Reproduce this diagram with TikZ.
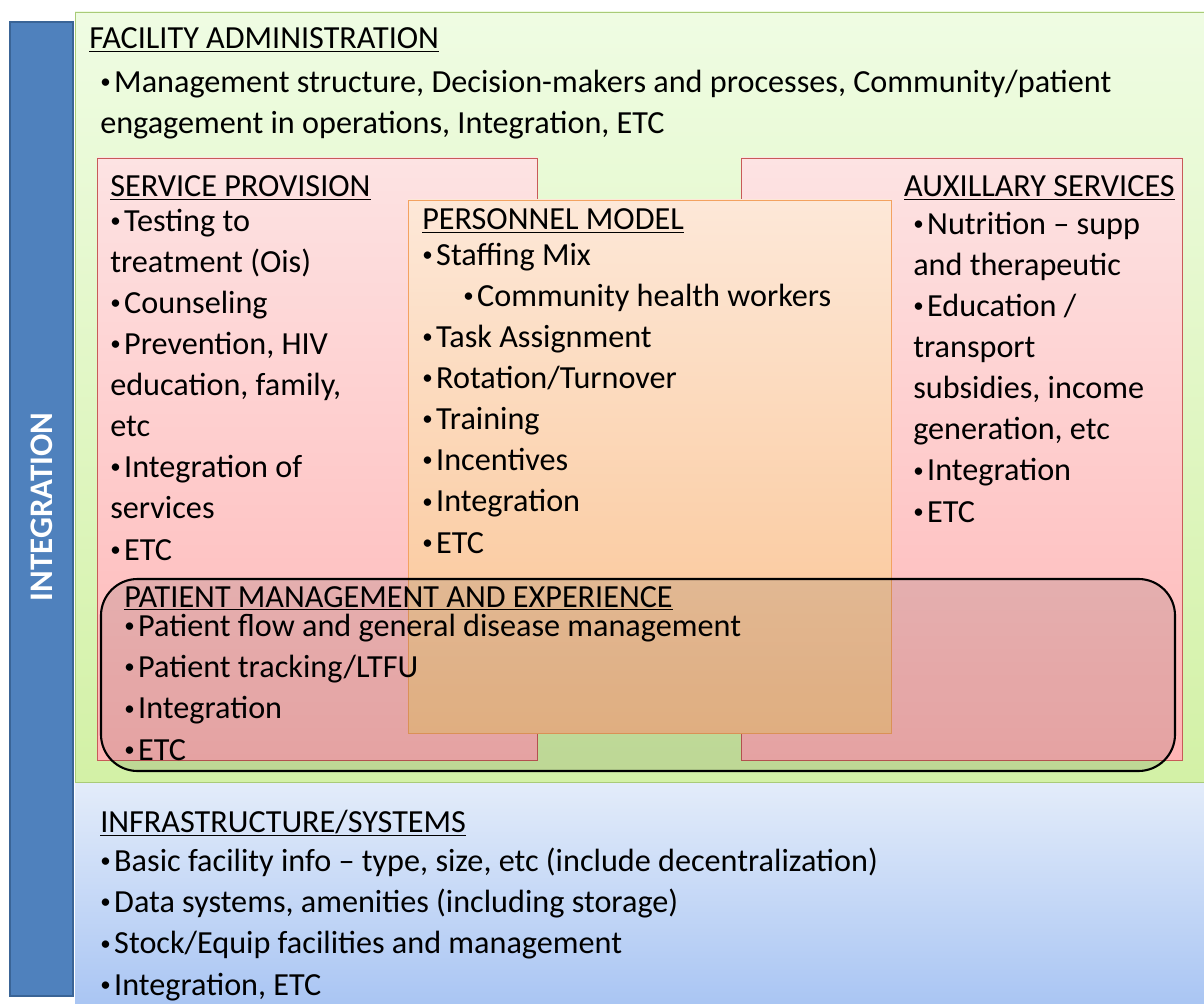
\documentclass[tikz,border=0pt]{standalone}
\usepackage{graphicx}
\usepackage{fontspec}
\setmainfont{Carlito}
\usetikzlibrary{positioning}

\definecolor{barblue}{HTML}{4F81BD}
\definecolor{barline}{HTML}{3A6496}
\definecolor{admtop}{HTML}{EFFCE3}
\definecolor{admbot}{HTML}{D3F1A6}
\definecolor{admline}{HTML}{A9CB78}
\definecolor{inftop}{HTML}{E3ECFA}
\definecolor{infbot}{HTML}{A9C5F3}
\definecolor{sertop}{HTML}{FDE3E3}
\definecolor{serbot}{HTML}{FFB5B5}
\definecolor{serline}{HTML}{C85A58}
\definecolor{pertop}{HTML}{FDE8D8}
\definecolor{perbot}{HTML}{FAC28F}
\definecolor{perline}{HTML}{F3A260}

% small bullet like the slide's
\newcommand\itembul{\raisebox{2.8pt}{\scalebox{0.65}{\textbullet}}\kern2.5pt}

% multi-line nodes sit on the baseline of their last line
\tikzset{
  txt/.style={anchor=base west, inner sep=0pt, align=left,
    font=\fontsize{22.9}{29.2}\selectfont},
}

\begin{document}
\begin{tikzpicture}[x=0.025cm, y=-0.025cm]
\useasboundingbox (0,0) rectangle (1204,1004);
\fill[white] (0,0) rectangle (1204,1004);
% Integration bar
\draw[barline, fill=barblue, line width=1pt] (10,22) rectangle (73,996);
\node[rotate=90, text=white, font=\fontsize{23.4}{26}\bfseries\selectfont] (integ) at (42,507) {INTEGRATION};

% Facility administration
\draw[admline, top color=admtop, bottom color=admbot] (75,12) rectangle (1206,782);
% Infrastructure
\fill[top color=inftop, bottom color=infbot] (75,783) rectangle (1206,1006);

% Service provision and auxillary services
\draw[serline, top color=sertop, bottom color=serbot] (97,158) rectangle (537,760);
\draw[serline, top color=sertop, bottom color=serbot] (741,158) rectangle (1182,760);
% Personnel model
\draw[perline, top color=pertop, bottom color=perbot] (408,200) rectangle (891,733);

% Patient management overlay
\draw[black, line width=1.5pt, fill=black, fill opacity=0.1, rounded corners=26]
  (101,579) rectangle (1175,771);

% Texts
\node[txt] (adm) at (89,49) {\underline{FACILITY ADMINISTRATION}};
\node[txt] (admlist) at (100,134) {\itembul Management structure, Decision-makers and processes, Community/patient\\
engagement in operations, Integration, ETC};

\node[txt] (ser) at (110,197) {\underline{SERVICE PROVISION}};
\node[txt] (serlist) at (110,560) {\itembul Testing to\\ treatment (Ois)\\ \itembul Counseling\\
\itembul Prevention, HIV\\ education, family,\\ etc\\ \itembul Integration of\\ services\\ \itembul ETC};

\node[txt, anchor=base east] (aux) at (1175,197) {\underline{AUXILLARY SERVICES}};
\node[txt] (auxlist) at (913,522) {\itembul Nutrition -- supp\\ and therapeutic\\ \itembul Education /\\
transport\\ subsidies, income\\ generation, etc\\ \itembul Integration\\ \itembul ETC};

\node[txt] (per) at (422,230) {\underline{PERSONNEL MODEL}};
\node[txt] (perlist) at (422,553) {\itembul Staffing Mix\\ \hspace*{1.025cm}\itembul Community health workers\\
\itembul Task Assignment\\ \itembul Rotation/Turnover\\ \itembul Training\\ \itembul Incentives\\
\itembul Integration\\ \itembul ETC};

\node[txt] (pat) at (124,607) {\underline{PATIENT MANAGEMENT AND EXPERIENCE}};
\node[txt] (patlist) at (124,760) {\itembul Patient flow and general disease management\\
\itembul Patient tracking/LTFU\\ \itembul Integration\\ \itembul ETC};

\node[txt] (inf) at (100,832) {\underline{INFRASTRUCTURE/SYSTEMS}};
\node[txt] (inflist) at (100,995) {\itembul Basic facility info -- type, size, etc (include decentralization)\\
\itembul Data systems, amenities (including storage)\\ \itembul Stock/Equip facilities and management\\
\itembul Integration, ETC};
\end{tikzpicture}
\end{document}
